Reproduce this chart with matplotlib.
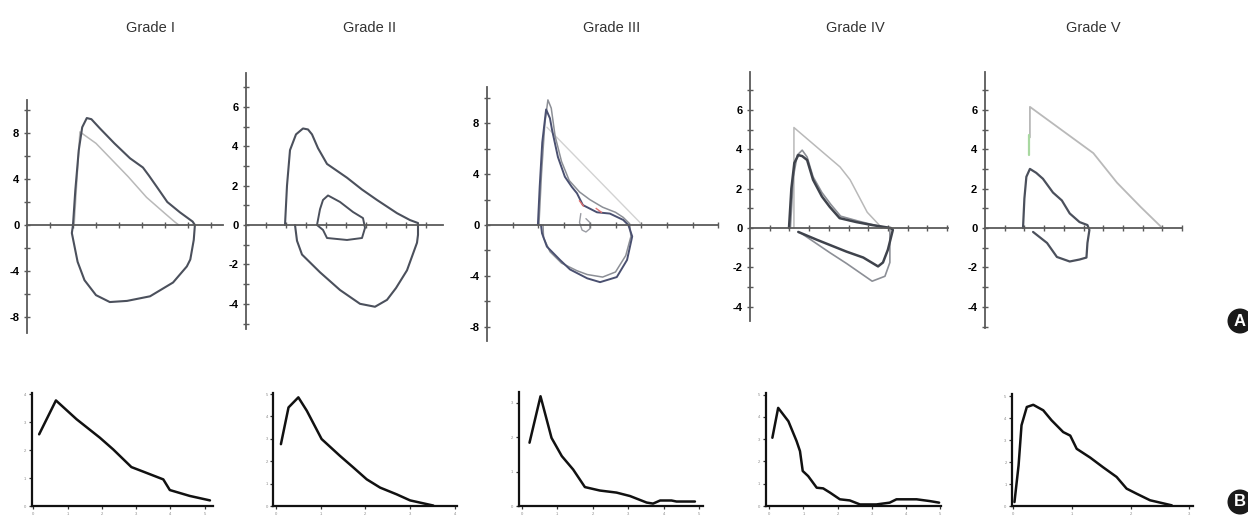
import matplotlib
matplotlib.use("Agg")
import matplotlib.pyplot as plt
import numpy as np

plt.rcParams["font.family"] = ["Liberation Sans", "DejaVu Sans"]

W, H = 1248, 515

GRADES = ["Grade I", "Grade II", "Grade III", "Grade IV", "Grade V"]

# ---- top row: flow-volume loops (x = volume ticks, y = flow) ----
G1_LOOP = [(2.0, 0), (2.1, 3.0), (2.25, 6.5), (2.4, 8.5), (2.6, 9.3), (2.8, 9.2),
           (3.17, 8.4), (3.8, 7.1), (4.48, 5.8), (5.04, 5.0), (5.3, 4.3), (5.65, 3.3),
           (6.1, 2.0), (6.65, 1.1), (7.2, 0.3), (7.3, 0), (7.25, -1.3), (7.1, -3.0),
           (6.95, -3.6), (6.35, -5.0), (5.35, -6.2), (4.35, -6.6), (3.6, -6.7),
           (3.0, -6.1), (2.5, -4.8), (2.2, -3.2), (1.95, -0.7), (2.0, 0)]
G1_PRED = [(2.05, 0), (2.3, 8.1), (3.0, 7.1), (4.4, 4.2), (5.2, 2.4), (6.0, 1.0),
           (6.43, 0.26), (6.6, 0)]

G2_LOOP = [(1.95, 0), (2.05, 2.0), (2.2, 3.8), (2.5, 4.6), (2.85, 4.9), (3.1, 4.85),
           (3.3, 4.6), (3.6, 3.9), (4.05, 3.1), (5.05, 2.4), (5.8, 1.8), (6.55, 1.27),
           (7.55, 0.6), (8.2, 0.25), (8.6, 0.1), (8.6, -0.5), (8.55, -0.9), (8.3, -1.6),
           (8.05, -2.3), (7.5, -3.2), (7.05, -3.8), (6.45, -4.15), (5.7, -4.0),
           (4.7, -3.3), (3.7, -2.4), (2.8, -1.5), (2.55, -0.8), (2.45, 0)]
G2_INNER = [(3.55, 0), (3.7, 0.8), (3.85, 1.27), (4.1, 1.5), (4.7, 1.17), (5.35, 0.66),
            (5.85, 0.35), (5.95, -0.15), (5.8, -0.66), (5.05, -0.76), (4.05, -0.66),
            (3.85, -0.25), (3.55, 0)]

G3_LOOP = [(1.98, 0), (2.05, 3.0), (2.15, 6.5), (2.3, 9.1), (2.45, 8.4), (2.53, 7.5),
           (2.76, 5.35), (3.03, 3.8), (3.3, 3.0), (3.5, 2.5), (3.73, 1.57), (4.28, 1.0),
           (4.78, 0.9), (5.3, 0.4), (5.5, 0), (5.65, -0.9), (5.45, -2.75), (5.05, -4.1),
           (4.4, -4.5), (3.9, -4.2), (3.23, -3.5), (2.84, -2.75), (2.33, -1.7),
           (2.14, -0.65), (2.1, 0)]
G3_REPEAT = [(2.02, 0), (2.12, 4.0), (2.25, 8.0), (2.37, 9.85), (2.5, 9.2), (2.65, 7.0),
             (2.9, 5.0), (3.2, 3.5), (3.6, 2.6), (4.0, 2.0), (4.5, 1.4), (5.0, 1.0),
             (5.3, 0.6), (5.55, 0.1), (5.6, -0.9), (5.4, -2.4), (5.0, -3.7), (4.5, -4.1),
             (3.9, -3.9), (3.5, -3.6), (2.9, -3.0), (2.45, -2.1), (2.2, -1.0), (2.18, 0)]
G3_PRED = [(2.33, 7.7), (5.95, 0.2), (6.0, 0)]
G3_SMALL = [(3.65, 0.9), (3.6, 0.2), (3.7, -0.4), (3.85, -0.55), (4.0, -0.3),
            (4.0, 0.2), (3.85, 0.5)]

G4_LOOP = [(1.98, 0), (2.1, 2.0), (2.25, 3.3), (2.45, 3.7), (2.65, 3.65), (2.9, 3.45),
           (3.2, 2.45), (3.65, 1.6), (4.05, 1.07), (4.55, 0.5), (5.4, 0.3), (6.2, 0.15),
           (7.15, 0), (7.25, -0.1), (7.0, -1.1), (6.75, -1.75), (6.5, -1.95),
           (5.75, -1.5), (4.9, -1.2), (4.05, -0.86), (3.4, -0.6), (2.45, -0.2)]
G4_REPEAT = [(2.05, 0), (2.2, 2.6), (2.4, 3.7), (2.65, 3.95), (2.9, 3.6), (3.2, 2.6),
             (3.65, 1.8), (4.1, 1.2), (4.6, 0.6), (5.5, 0.35), (6.5, 0.1), (7.1, 0),
             (7.1, -1.75), (6.85, -2.45), (6.2, -2.7), (4.9, -1.8), (4.05, -1.25),
             (2.65, -0.3)]
G4_PRED = [(2.23, 0), (2.23, 5.1), (4.57, 3.1), (5.08, 2.45), (5.95, 0.8), (6.7, 0)]

G5_LOOP = [(1.93, 0), (2.0, 1.5), (2.1, 2.6), (2.28, 3.0), (2.6, 2.8), (2.94, 2.5),
           (3.45, 1.8), (3.9, 1.4), (4.3, 0.74), (4.8, 0.3), (5.2, 0.15), (5.3, -0.1),
           (5.2, -0.76), (5.15, -1.5), (4.8, -1.6), (4.3, -1.7), (3.65, -1.47),
           (3.15, -0.76), (2.44, -0.2)]
G5_PRED = [(2.28, 4.6), (2.28, 6.15), (5.5, 3.8), (6.7, 2.3), (7.9, 1.07), (9.0, 0)]
G5_GREEN = [(2.25, 3.7), (2.25, 4.7)]

# ---- bottom row: flow curves ----
B1 = [(0.17, 2.56), (0.66, 3.77), (1.26, 3.1), (1.94, 2.44), (2.33, 2.02), (2.86, 1.39),
      (3.2, 1.23), (3.79, 0.95), (3.98, 0.57), (4.56, 0.36), (5.15, 0.2)]
B2 = [(0.11, 2.76), (0.28, 4.4), (0.5, 4.85), (0.69, 4.25), (1.02, 2.99), (1.43, 2.24),
      (1.73, 1.72), (2.03, 1.19), (2.33, 0.82), (2.7, 0.52), (3.0, 0.25), (3.52, 0.02)]
B3 = [(0.22, 1.84), (0.53, 3.19), (0.84, 1.98), (1.13, 1.45), (1.45, 1.06), (1.78, 0.55),
      (2.2, 0.45), (2.67, 0.39), (3.05, 0.29), (3.52, 0.1), (3.7, 0.07), (3.9, 0.16),
      (4.22, 0.16), (4.36, 0.13), (4.88, 0.13)]
B4 = [(0.09, 3.06), (0.26, 4.4), (0.56, 3.8), (0.8, 2.91), (0.9, 2.46), (0.98, 1.57),
      (1.14, 1.34), (1.39, 0.82), (1.58, 0.79), (1.78, 0.6), (2.07, 0.3), (2.36, 0.25),
      (2.66, 0.07), (3.14, 0.07), (3.53, 0.15), (3.73, 0.3), (4.32, 0.3), (4.71, 0.22),
      (4.98, 0.15)]
B5 = [(0.02, 0.18), (0.09, 1.85), (0.14, 3.67), (0.23, 4.5), (0.34, 4.6), (0.51, 4.35),
      (0.65, 3.9), (0.85, 3.36), (0.97, 3.2), (1.08, 2.6), (1.31, 2.2), (1.53, 1.76),
      (1.76, 1.32), (1.93, 0.79), (2.1, 0.56), (2.33, 0.26), (2.7, 0.03)]

# panel geometry in pixels: (x origin, x unit, xlim, y origin, y unit, ylim)
TOP_GEOM = [
    (27, 23.0, (0, 8.5), 225, 11.5, (-9.4, 10.9)),
    (246, 20.0, (0, 9.85), 225, 19.7, (-5.3, 7.7)),
    (487, 25.7, (0, 9.0), 225, 12.7, (-9.1, 10.9)),
    (750, 19.7, (0, 10.05), 228, 19.7, (-4.7, 7.9)),
    (985, 19.7, (0, 10.0), 228, 19.7, (-5.1, 7.9)),
]
TOP_YSTEP = [2, 1, 2, 1, 1]
TOP_YLAB = [[8, 4, 0, -4, -8], [6, 4, 2, 0, -2, -4], [8, 4, 0, -4, -8],
            [6, 4, 2, 0, -2, -4], [6, 4, 2, 0, -2, -4]]
TITLE_X = [150, 370, 612, 855, 1093]

BOT_GEOM = [
    (33.3, 34.3, (-0.04, 5.24), 506, 28.0, (0, 4.03)),
    (276, 44.7, (-0.06, 4.05), 506, 22.4, (0, 5.05)),
    (521.7, 35.5, (-0.08, 5.1), 506, 34.4, (0, 3.3)),
    (769.3, 34.1, (-0.1, 5.03), 506, 22.3, (0, 5.07)),
    (1013.3, 58.7, (-0.02, 3.06), 506, 22.0, (0, 5.1)),
]
BOT_XT = [6, 5, 6, 6, 4]
BOT_YT = [5, 6, 4, 6, 6]

LOOP_C = "#4b505c"
REP_C = "#8c8f96"
PRED_C = "#b9b9b9"
AXIS_C = "#5a5a5a"


def make_axes(fig, geom):
    x0, xu, xlim, y0, yu, ylim = geom
    left = x0 + xlim[0] * xu
    right = x0 + xlim[1] * xu
    top = y0 - ylim[1] * yu
    bottom = y0 - ylim[0] * yu
    ax = fig.add_axes([left / W, 1 - bottom / H, (right - left) / W, (bottom - top) / H])
    ax.set_xlim(xlim)
    ax.set_ylim(ylim)
    ax.patch.set_alpha(0)
    return ax


def line(ax, pts, **kw):
    a = np.array(pts, dtype=float)
    ax.plot(a[:, 0], a[:, 1], solid_capstyle="round", clip_on=False, **kw)


fig = plt.figure(figsize=(W / 100, H / 100), dpi=100)

top_series = [
    [(G1_PRED, PRED_C, 1.1), (G1_LOOP, LOOP_C, 1.5)],
    [(G2_LOOP, LOOP_C, 1.5), (G2_INNER, LOOP_C, 1.4)],
    [(G3_PRED, "#d2d2d2", 1.0), (G3_SMALL, "#9a9ca3", 1.0), (G3_REPEAT, REP_C, 1.1),
     (G3_LOOP, "#4a5070", 1.4)],
    [(G4_PRED, PRED_C, 1.1), (G4_REPEAT, REP_C, 1.2), (G4_LOOP, "#3f434c", 1.8)],
    [(G5_PRED, PRED_C, 1.3), (G5_GREEN, "#a8d8a0", 1.6), (G5_LOOP, "#4b505c", 1.6)],
]

for i, geom in enumerate(TOP_GEOM):
    ax = make_axes(fig, geom)
    xlim, ylim = geom[2], geom[5]
    for s in ("top", "right"):
        ax.spines[s].set_visible(False)
    ax.spines["bottom"].set_position(("data", 0))
    for s in ("left", "bottom"):
        ax.spines[s].set_color(AXIS_C)
        ax.spines[s].set_linewidth(1.3)
    step = TOP_YSTEP[i]
    yt = np.arange(np.ceil(ylim[0] / step) * step, ylim[1] + 1e-9, step)
    ax.set_yticks(yt)
    ax.set_yticklabels([f"{int(v)}" if int(v) in TOP_YLAB[i] else "" for v in yt])
    ax.set_xticks(np.arange(1, int(xlim[1]) + 1))
    ax.set_xticklabels([])
    ax.tick_params(direction="inout", length=5, width=1, color=AXIS_C,
                   labelsize=8, pad=3)
    for t in ax.get_yticklabels():
        t.set_fontweight("bold")
    for pts, c, lw in top_series[i]:
        line(ax, pts, color=c, lw=lw)
    if i == 2:
        ax.plot([3.6, 3.75], [1.9, 1.5], color="#e07070", lw=1)
        ax.plot([4.25, 4.45], [1.3, 1.0], color="#e07070", lw=1)
    fig.text(TITLE_X[i] / W, 1 - 28 / H, GRADES[i], ha="center", va="center",
             fontsize=10.5, color="#333333")

bot_series = [B1, B2, B3, B4, B5]
for i, geom in enumerate(BOT_GEOM):
    ax = make_axes(fig, geom)
    for s in ("top", "right"):
        ax.spines[s].set_visible(False)
    for s in ("left", "bottom"):
        ax.spines[s].set_color("#111111")
        ax.spines[s].set_linewidth(1.6)
    ax.set_xticks(np.arange(BOT_XT[i]))
    ax.set_yticks(np.arange(BOT_YT[i]))
    ax.tick_params(direction="out", length=2.5, width=0.9, color="#333333",
                   labelsize=3, labelcolor="#8a8a8a", pad=1.5)
    line(ax, bot_series[i], color="#111111", lw=1.8)

# section badges sit at the right edge, partly cut as in the source figure
for label, ypx in (("A", 321), ("B", 502)):
    fig.text(1240 / W, 1 - ypx / H, label, ha="center", va="center", fontsize=12,
             fontweight="bold", color="white",
             bbox=dict(boxstyle="circle,pad=0.3", fc="#1a1a1a", ec="none"))

fig.savefig("out.png", dpi=100)
